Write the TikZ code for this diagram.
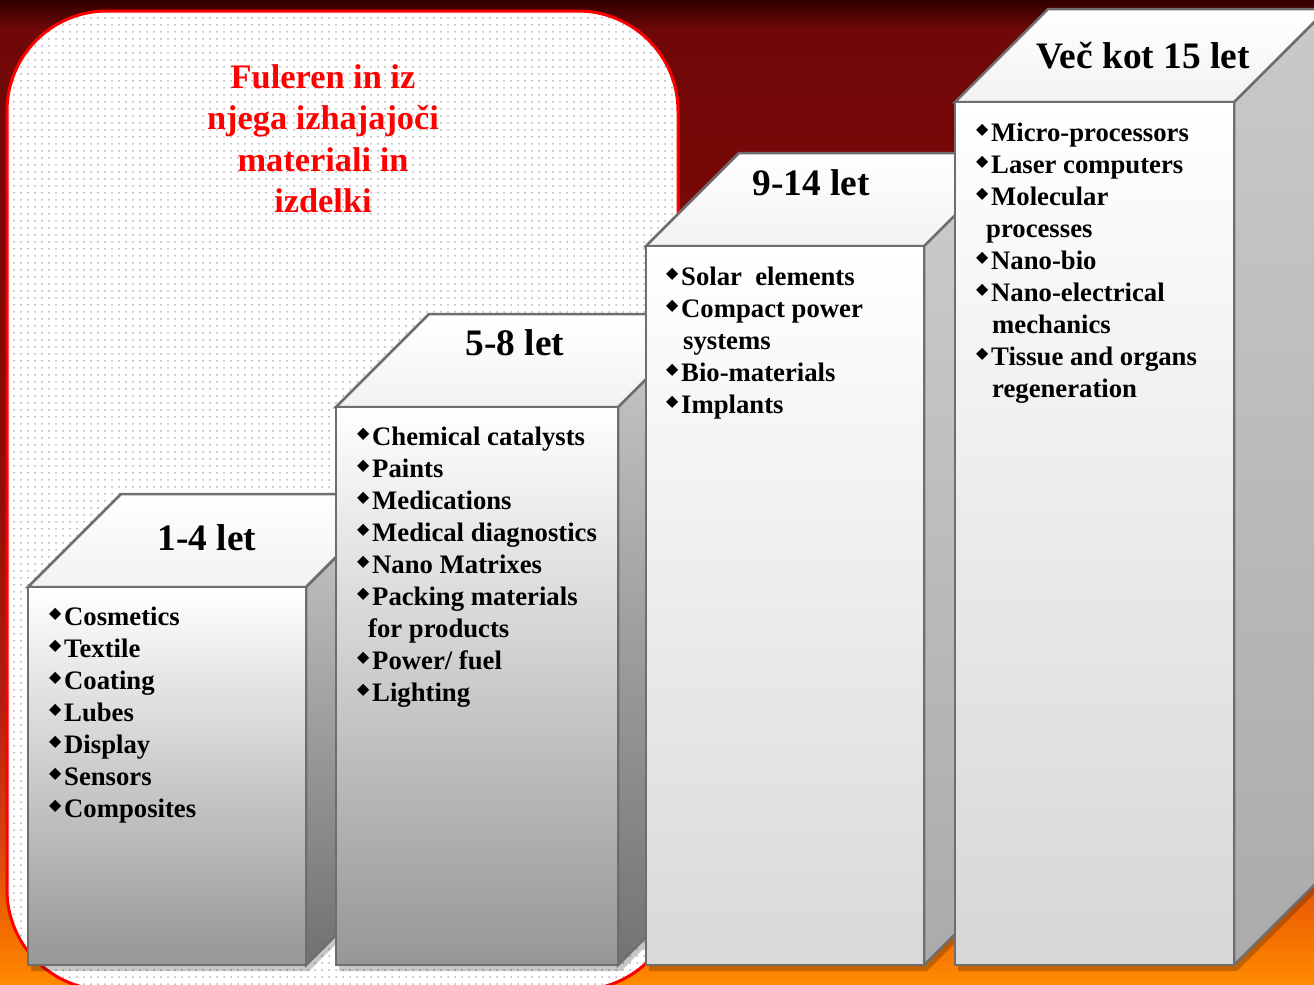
\documentclass[tikz,border=0pt]{standalone}
\usepackage{fontspec}
\setmainfont{Liberation Serif}
\newfontfamily\symfont{DejaVu Sans}
\usetikzlibrary{patterns.meta}
\definecolor{edgegray}{HTML}{6E6E6E}
\definecolor{dotgray}{HTML}{B4B4B4}
\definecolor{titlered}{HTML}{FF0000}
\definecolor{lidgray}{HTML}{F2F2F2}
\definecolor{fire0}{HTML}{FF8A00}
\definecolor{fire1}{HTML}{F26A00}
\definecolor{fire2}{HTML}{D84410}
\definecolor{fire3}{HTML}{B22010}
\definecolor{fire4}{HTML}{900E08}
\definecolor{fire5}{HTML}{7C0808}
\definecolor{fire6}{HTML}{700808}
\definecolor{fire7}{HTML}{300000}
\pgfdeclareverticalshading{firebg}{100bp}{color(0bp)=(fire0); color(25bp)=(fire0); color(28bp)=(fire1); color(32bp)=(fire2); color(39bp)=(fire3); color(50bp)=(fire4); color(62bp)=(fire5); color(73.5bp)=(fire6); color(75bp)=(fire7); color(100bp)=(fire7)}

\newcommand\bul{\makebox[15bp][l]{\symfont\fontsize{16}{16}\selectfont\raisebox{6.5bp}{◆}}}

% box: left, right, top of front face, front bottom colour, side colours
\newcommand\cuboid[6]{%
  \fill[black, opacity=.22] (#1+3,971) -- (#1+3,#3+6) -- (#1+96,#3-87) -- (#2+96,#3-87) -- (#2+96,878) -- (#2+3,971) -- cycle;
  \shadedraw[edge, top color=#5, bottom color=#6] (#2,#3) -- (#2+93,#3-93) -- (#2+93,872) -- (#2,965) -- cycle;
  \shadedraw[edge, top color=white, bottom color=lidgray] (#1,#3) -- (#1+93,#3-93) -- (#2+93,#3-93) -- (#2,#3) -- cycle;
  \shadedraw[edge, top color=white, bottom color=#4] (#1,#3) rectangle (#2,965);
}

\begin{document}
\begin{tikzpicture}[x=1bp, y=-1bp,
  every node/.style={inner sep=0pt},
  edge/.style={draw=edgegray, line width=2.5bp},
  head/.style={anchor=base, font=\fontsize{37.5}{42}\selectfont\bfseries},
  item/.style={anchor=base west, font=\fontsize{26.8}{32}\selectfont\bfseries},
  title/.style={anchor=base, text=titlered, font=\fontsize{34.5}{41}\selectfont\bfseries}]
\useasboundingbox (0,0) rectangle (1314,984);
\clip (0,0) rectangle (1314,984);
\shade[shading=firebg] (0,0) rectangle (1314,984);

% dotted panel behind the boxes
\path[rounded corners=100bp, preaction={fill=white}, pattern={Dots[distance=7bp, radius=1bp]}, pattern color=dotgray] (7,11) rectangle (678,990);
\draw[titlered, line width=3bp, rounded corners=100bp] (7,11) rectangle (678,990);

\node[title] (t1) at (323,88) {Fuleren in iz};
\node[title] (t2) at (323,129) {njega izhajajoči};
\node[title] (t3) at (323,171) {materiali in};
\node[title] (t4) at (323,212) {izdelki};

% the four steps
\cuboid{28}{306}{587}{black!41}{black!21}{black!56}
\cuboid{336}{618}{407}{black!41}{black!21}{black!55}
\cuboid{646}{924}{246}{black!15}{black!20}{black!33}
\cuboid{955}{1234}{102}{black!16}{black!21}{black!33}

\node[head] (h1) at (207,550) {1-4 let};
\node[head] (h2) at (515,355) {5-8 let};
\node[head] (h3) at (811,195) {9-14 let};
\node[head] (h4) at (1143,68) {Več kot 15 let};

\foreach \txt [count=\i] in {{\bul Cosmetics}, {\bul Textile}, {\bul Coating}, {\bul Lubes}, {\bul Display}, {\bul Sensors}, {\bul Composites}}
  \node[item] (a\i) at (49,625+32*\i-32) {\txt};
\foreach \txt [count=\i] in {{\bul Chemical catalysts}, {\bul Paints}, {\bul Medications}, {\bul Medical diagnostics}, {\bul Nano Matrixes}, {\bul Packing materials}, {\hspace{11bp}for products}, {\bul Power/ fuel}, {\bul Lighting}}
  \node[item] (b\i) at (357,445+32*\i-32) {\txt};
\foreach \txt [count=\i] in {{\bul Solar\ \ elements}, {\bul Compact power}, {\hspace{17bp}systems}, {\bul Bio-materials}, {\bul Implants}}
  \node[item] (c\i) at (666,285+32*\i-32) {\txt};
\foreach \txt [count=\i] in {{\bul Micro-processors}, {\bul Laser computers}, {\bul Molecular}, {\hspace{10bp}processes}, {\bul Nano-bio}, {\bul Nano-electrical}, {\hspace{16bp}mechanics}, {\bul Tissue and organs}, {\hspace{16bp}regeneration}}
  \node[item] (d\i) at (976,141+32*\i-32) {\txt};
\end{tikzpicture}
\end{document}
